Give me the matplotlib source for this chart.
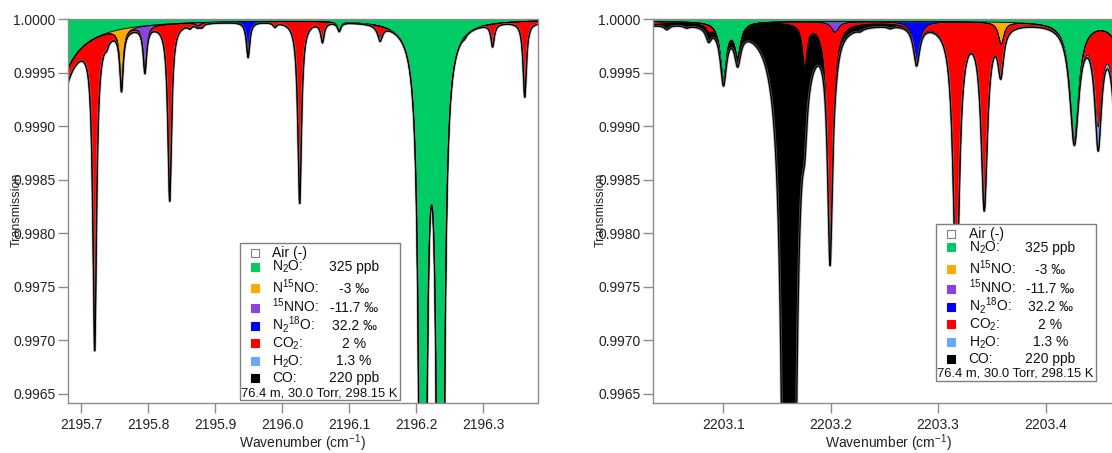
import numpy as np
import matplotlib.pyplot as plt
from matplotlib.patches import Rectangle

plt.rcParams['font.family'] = ['Liberation Sans', 'DejaVu Sans']
plt.rcParams['mathtext.default'] = 'regular'

W, H = 1112, 453

# species in stacking order, from T = 1 downwards
species = ['N2O', 'N15NO', '15NNO', 'N218O', 'CO2', 'H2O', 'CO']
colors = ['#00cc66', '#ffaa00', '#8844dd', '#0000ff', '#ff0000', '#66aaff', '#000000']
leg_labels = ['N$_2$O:', 'N$^{15}$NO:', '$^{15}$NNO:', 'N$_2$$^{18}$O:', 'CO$_2$:', 'H$_2$O:', 'CO:']
leg_values = ['325 ppb', '-3 \u2030', '-11.7 \u2030', '32.2 \u2030', '2 %', '1.3 %', '220 ppb']
cond_text = '76.4 m, 30.0 Torr, 298.15 K'

# line lists: (centre / cm-1, peak absorbance, half width / cm-1)
left_n2o = [(2195.616, 0.119, 0.004), (2196.085, 0.00008, 0.003),
            (2196.2098, 0.025, 0.0025), (2196.2362, 0.025, 0.0025)]
left_n15no = [(2195.760, 0.00055, 0.003)]
left_15nno = [(2195.795, 0.00042, 0.003), (2195.874, 0.00003, 0.004)]
left_n218o = [(2195.949, 0.00033, 0.003), (2196.272, 0.00002, 0.003)]
left_co2 = [(2195.649, 0.01, 0.0033), (2195.720, 0.0029, 0.0033), (2195.738, 0.00005, 0.003),
            (2195.832, 0.00165, 0.0033), (2195.862, 0.00003, 0.003), (2195.880, 0.00003, 0.003),
            (2195.989, 0.00004, 0.003), (2196.026, 0.0017, 0.0033), (2196.060, 0.00018, 0.003),
            (2196.146, 0.0001, 0.005), (2196.314, 0.00021, 0.003), (2196.362, 0.0007, 0.003),
            (2196.43, 0.004, 0.003)]
left_h2o = [(2196.146, 0.00004, 0.003)]
left_co = []
left_offset = [0, 0, 0, 0, 0, 0, 0]

right_n2o = [(2203.1003, 0.00052, 0.0035), (2203.1135, 0.0003, 0.0035),
             (2203.4268, 0.0011, 0.005), (2203.475, 0.001, 0.005)]
right_n15no = [(2203.3588, 0.00021, 0.003)]
right_15nno = [(2203.2042, 0.0001, 0.004)]
right_n218o = [(2203.280, 0.00037, 0.0035)]
right_co2 = [(2202.99, 0.005, 0.0033), (2203.087, 0.00006, 0.003), (2203.176, 0.0004, 0.0025),
             (2203.1995, 0.0021, 0.0028), (2203.317, 0.0025, 0.0035), (2203.343, 0.0017, 0.0035),
             (2203.358, 0.00022, 0.003), (2203.449, 0.00085, 0.004), (2203.467, 0.0009, 0.004)]
right_h2o = [(2203.449, 0.00022, 0.003), (2203.467, 0.00025, 0.003)]
right_co = [(2203.0476, 0.00004, 0.003), (2203.066, 0.00002, 0.003), (2203.086, 0.00006, 0.003),
            (2203.1613, 0.06, 0.0018), (2203.2274, 0.00002, 0.003), (2203.2553, 0.00002, 0.003)]
right_offset = [0.00002, 0, 0, 0, 0, 0, 0]

left_xlim = (2195.680, 2196.381)
right_xlim = (2203.035, 2203.472)
left_xticks = [2195.7, 2195.8, 2195.9, 2196.0, 2196.1, 2196.2, 2196.3]
right_xticks = [2203.1, 2203.2, 2203.3, 2203.4]
yticks = [0.9965, 0.9970, 0.9975, 0.9980, 0.9985, 0.9990, 0.9995, 1.0000]
ylim = (0.99641, 1.0)


def absorbance(x, lines, offset):
    a = np.full_like(x, offset)
    for c, d, g in lines:
        a += d / (1 + ((x - c) / g) ** 2)
    return a


def fx(px):
    return px / W


def fy(py):
    return 1 - py / H


def draw_legend(fig, ax, left, top):
    w, h = 160, 157
    ax.add_patch(Rectangle((fx(left), fy(top + h)), w / W, h / H, transform=fig.transFigure,
                           facecolor='white', edgecolor='#7f7f7f', lw=1, clip_on=False, zorder=10))
    rows = [10, 24, 45.6, 65, 83, 100.7, 118.2, 135.2]
    sq = 8
    names = ['Air (-)'] + leg_labels
    fills = ['white'] + colors
    for i, r in enumerate(rows):
        ax.add_patch(Rectangle((fx(left + 15 - sq / 2), fy(top + r + sq / 2)), sq / W, sq / H,
                               transform=fig.transFigure, facecolor=fills[i],
                               edgecolor='#7f7f7f' if i == 0 else fills[i], lw=0.8,
                               clip_on=False, zorder=11))
        ax.text(fx(left + 33), fy(top + r + 4.5), names[i], transform=fig.transFigure,
                fontsize=10, va='baseline', ha='left', zorder=12, color='#111')
        if i > 0:
            ax.text(fx(left + 114.5), fy(top + r + 4.5), leg_values[i - 1], transform=fig.transFigure,
                    fontsize=10, va='baseline', ha='center', zorder=12, color='#111')
    ax.text(fx(left + w / 2), fy(top + 149 + 4.5), cond_text, transform=fig.transFigure,
            fontsize=9.4, va='baseline', ha='center', zorder=12, color='#111')


def panel(fig, ax, xlim, xticks, line_sets, offsets):
    x = np.linspace(xlim[0] - 0.01, xlim[1] + 0.01, 8000)
    upper = np.ones_like(x)
    bounds = []
    for lines, off, col in zip(line_sets, offsets, colors):
        lower = upper * np.exp(-absorbance(x, lines, off))
        ax.fill_between(x, lower, upper, color=col, lw=0)
        bounds.append(lower)
        upper = lower
    for b in bounds[:-1]:
        ax.plot(x, b, color='black', lw=0.6)
    ax.plot(x, bounds[-1], color='#8a8a8a', lw=2.0, alpha=0.6)
    ax.plot(x, bounds[-1], color='black', lw=0.9)
    ax.set_xlim(xlim)
    ax.set_ylim(ylim)
    ax.set_xticks(xticks)
    ax.set_xticklabels(['%.1f' % t for t in xticks])
    ax.set_yticks(yticks)
    ax.set_yticklabels(['%.4f' % t for t in yticks])
    for s in ax.spines.values():
        s.set_color('#8c8c8c')
        s.set_linewidth(1.0)
    ax.tick_params(axis='both', direction='out', length=7, width=1, color='#8c8c8c',
                   labelsize=10, labelcolor='#222')
    ax.tick_params(axis='x', pad=4)
    ax.tick_params(axis='y', pad=2)
    ax.set_xlabel('Wavenumber (cm$^{-1}$)', fontsize=10, color='#222', labelpad=0)


fig = plt.figure(figsize=(W / 100, H / 100), dpi=100)
ax1 = fig.add_axes([fx(67.9), fy(403.2), (537.5 - 67.9) / W, (403.2 - 19.3) / H])
ax2 = fig.add_axes([fx(653.3), fy(403.2), (537.5 - 67.9) / W, (403.2 - 19.3) / H])

panel(fig, ax1, left_xlim, left_xticks,
      [left_n2o, left_n15no, left_15nno, left_n218o, left_co2, left_h2o, left_co], left_offset)
panel(fig, ax2, right_xlim, right_xticks,
      [right_n2o, right_n15no, right_15nno, right_n218o, right_co2, right_h2o, right_co], right_offset)

draw_legend(fig, ax1, 239.5, 242.5)
draw_legend(fig, ax2, 935.7, 223.5)

fig.text(fx(17), fy(210), 'Transmission', rotation=90, fontsize=9, ha='center', va='center', color='#222')
fig.text(fx(601), fy(210), 'Transmission', rotation=90, fontsize=9, ha='center', va='center', color='#222')

fig.savefig('out.png', dpi=100)
